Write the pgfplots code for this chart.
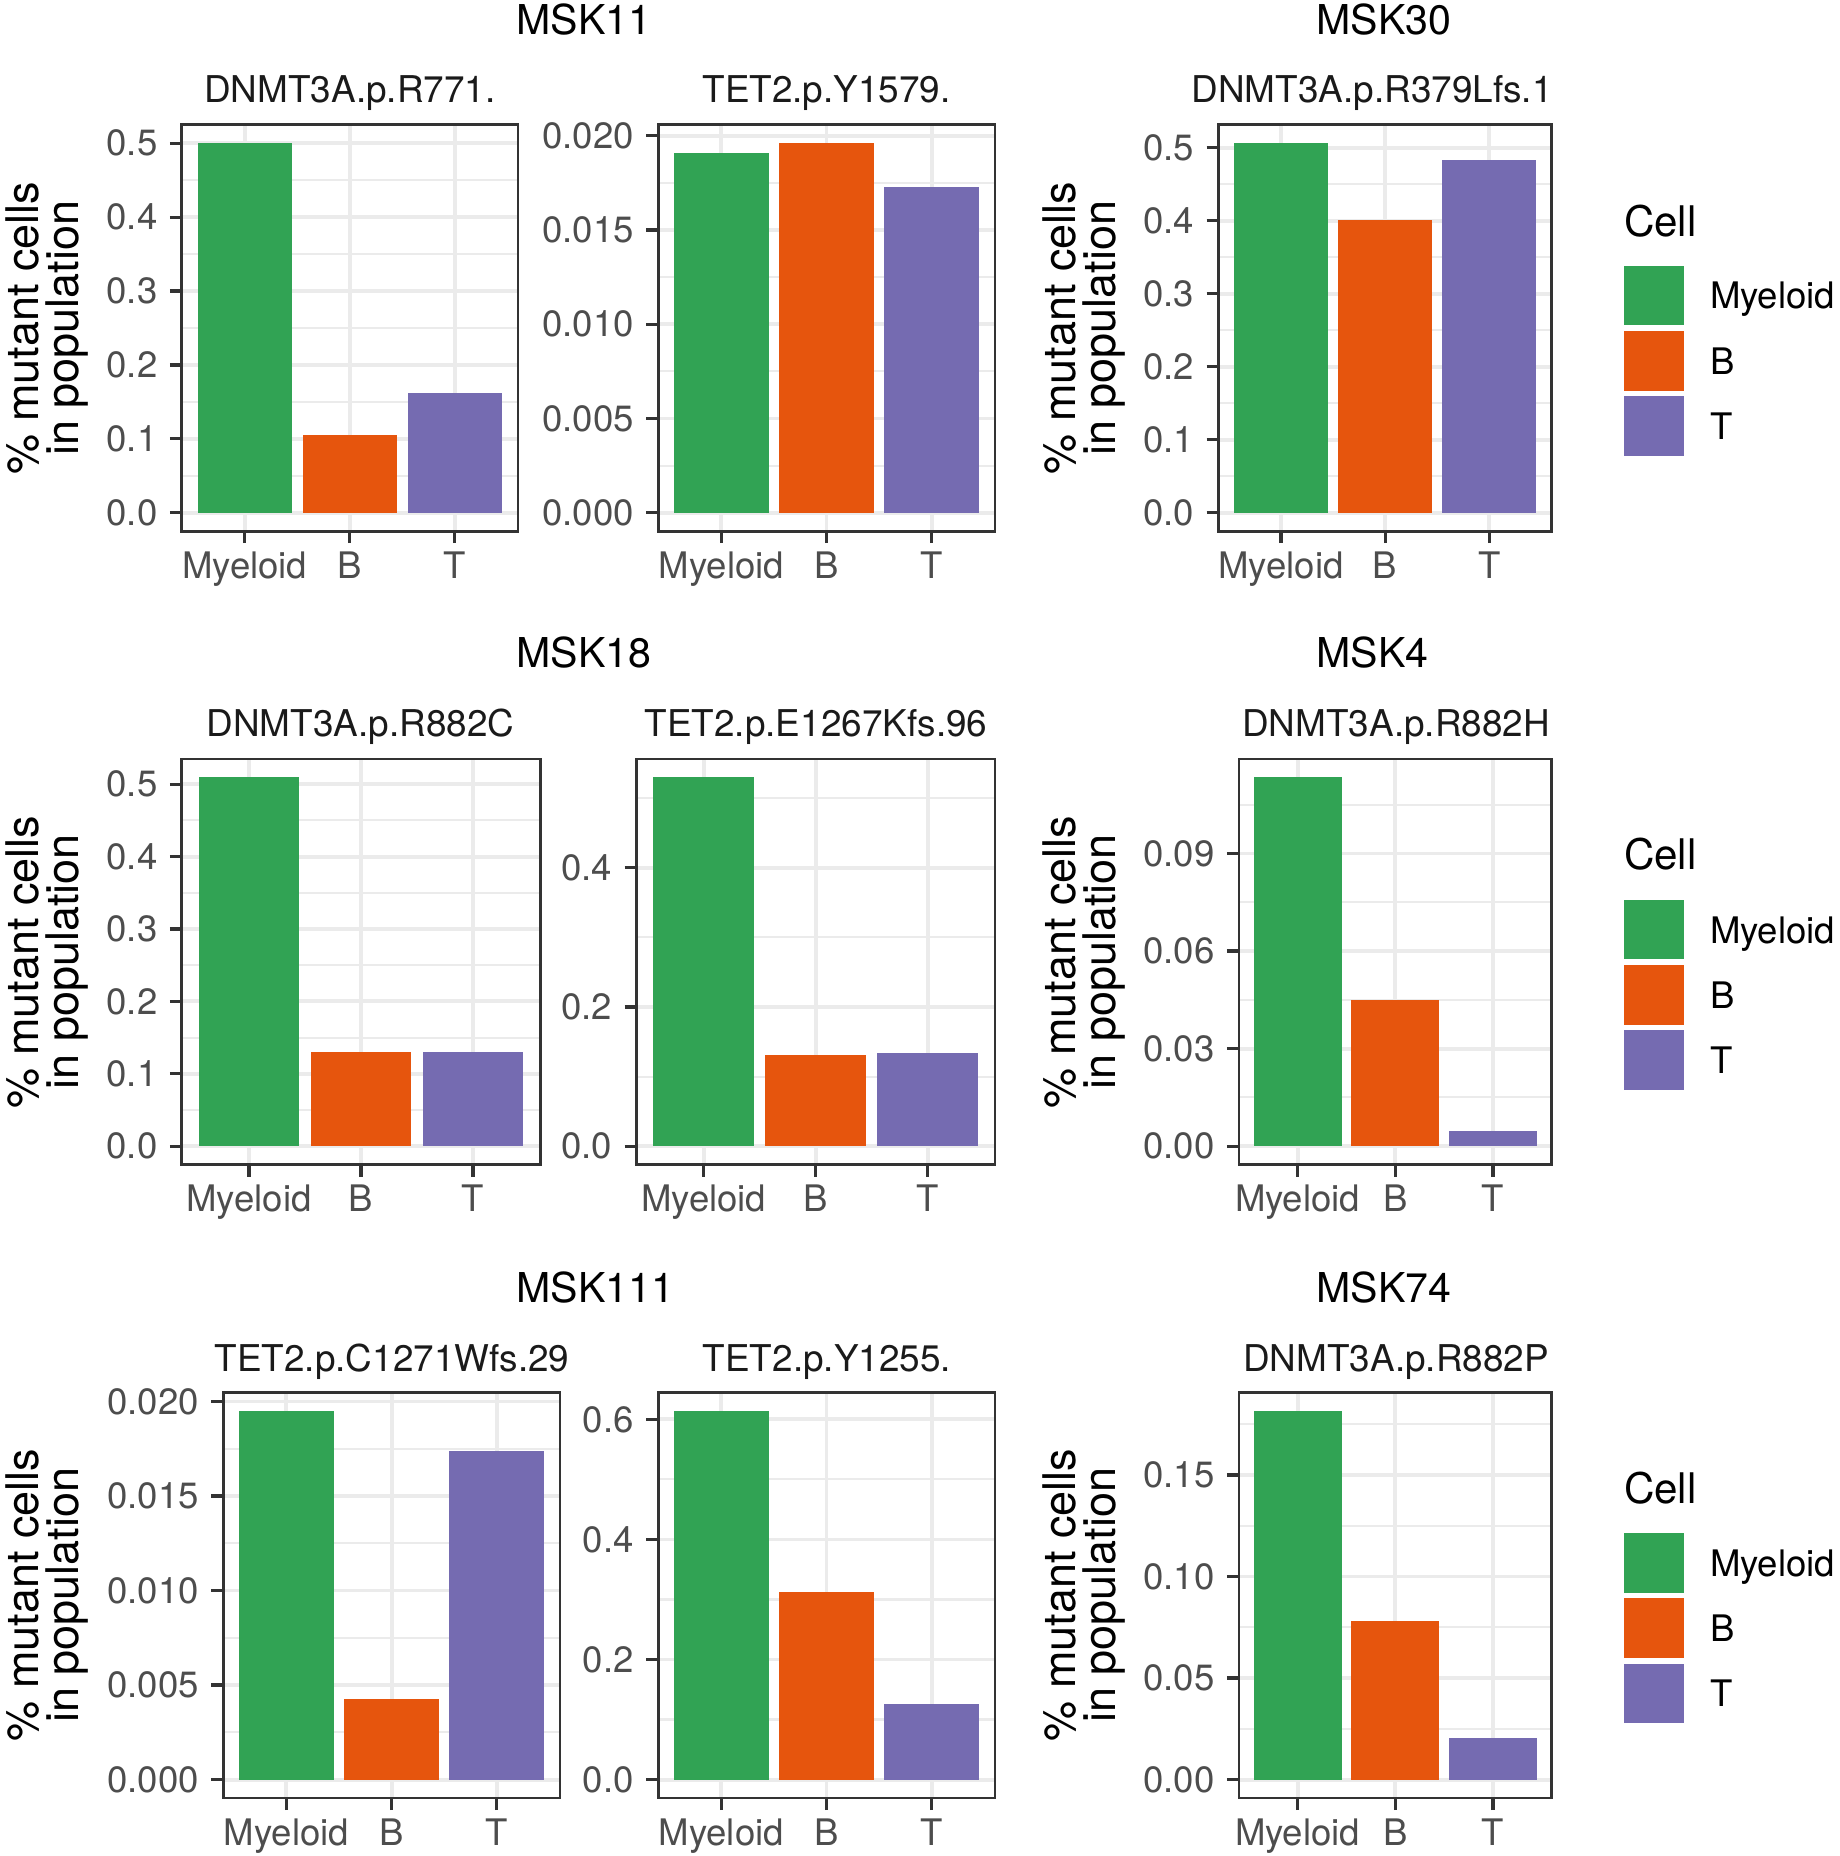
\documentclass[border=0pt]{standalone}
\usepackage{pgfplots}
\pgfplotsset{compat=1.18}
\usepackage{fontspec}
\setmainfont{TeX Gyre Heros}

\definecolor{cMy}{HTML}{31A354}
\definecolor{cB}{HTML}{E6550D}
\definecolor{cT}{HTML}{756BB1}
\definecolor{gg10}{HTML}{1A1A1A}
\definecolor{gg20}{HTML}{333333}
\definecolor{gg30}{HTML}{4D4D4D}
\definecolor{gg92}{HTML}{EBEBEB}

\pgfplotsset{
  panel/.style={
    scale only axis, anchor=north west,
    xmin=0.4, xmax=3.6,
    xtick={1,2,3}, xticklabels={Myeloid,B,T},
    scaled y ticks=false,
    tick align=outside, tick pos=left,
    major tick length=0.12cm, minor tick length=0pt,
    major tick style={color=gg20, line width=0.9pt},
    axis line style={color=gg20, line width=0.75pt},
    xmajorgrids, ymajorgrids, yminorgrids,
    major grid style={color=gg92, line width=1.1pt},
    minor grid style={color=gg92, line width=0.6pt},
    tick label style={font=\fontsize{10.4}{12}\selectfont, color=gg30},
    xticklabel style={yshift=0.04cm},
  },
  barMy/.style={ybar, bar shift=0pt, bar width=0.9, fill=cMy, draw=none,
    legend image code/.code={\fill[cMy] (0cm,-0.298cm) rectangle (0.6cm,0.298cm);}},
  barB/.style={ybar, bar shift=0pt, bar width=0.9, fill=cB, draw=none,
    legend image code/.code={\fill[cB] (0cm,-0.298cm) rectangle (0.6cm,0.298cm);}},
  barT/.style={ybar, bar shift=0pt, bar width=0.9, fill=cT, draw=none,
    legend image code/.code={\fill[cT] (0cm,-0.298cm) rectangle (0.6cm,0.298cm);}},
  cellleg/.style={
    legend cell align=left,
    legend style={at={#1}, anchor=north west, draw=none, fill=none,
      inner sep=0pt, outer sep=0pt, row sep=0.057cm, column sep=0.26cm,
      font=\fontsize{10.4}{12}\selectfont, nodes={inner sep=0pt, text depth=0pt}},
  },
}

\tikzset{
  ptitle/.style={anchor=base west, inner sep=0pt, font=\fontsize{11.7}{14}\selectfont},
  stitle/.style={anchor=base, inner sep=0pt, font=\fontsize{10.5}{12}\selectfont, color=gg10},
  ylab/.style={rotate=90, align=center, font=\fontsize{12.8}{11.4}\selectfont},
  legtitle/.style={anchor=base west, inner sep=0pt, font=\fontsize{12}{14}\selectfont},
}

\begin{document}
\begin{tikzpicture}
\useasboundingbox (0,0) rectangle (18.40,-18.56);

% ---------------- row 1 ----------------
\node[ptitle] at (5.16,-0.34) {MSK11};
\node[ptitle] at (13.16,-0.34) {MSK30};
\node[stitle] at (3.499,-1.026) {DNMT3A.p.R771.};
\node[stitle] at (8.266,-1.026) {TET2.p.Y1579.};
\node[stitle] at (13.72,-1.026) {DNMT3A.p.R379Lfs.1};
\node[ylab] at (0.47,-3.28) {\% mutant cells\\in population};
\node[ylab] at (10.84,-3.28) {\% mutant cells\\in population};

\begin{axis}[panel, at={(1.818cm,-1.248cm)}, width=3.361cm, height=4.064cm,
  ymin=-0.025, ymax=0.525,
  ytick={0,0.1,0.2,0.3,0.4,0.5}, yticklabels={0.0,0.1,0.2,0.3,0.4,0.5},
  minor ytick={0.05,0.15,0.25,0.35,0.45}]
\addplot[barMy] coordinates {(1,0.500)};
\addplot[barB] coordinates {(2,0.105)};
\addplot[barT] coordinates {(3,0.162)};
\end{axis}

\begin{axis}[panel, at={(6.582cm,-1.248cm)}, width=3.367cm, height=4.064cm,
  ymin=-0.00098, ymax=0.02058,
  ytick={0,0.005,0.01,0.015,0.02}, yticklabels={0.000,0.005,0.010,0.015,0.020},
  minor ytick={0.0025,0.0075,0.0125,0.0175}]
\addplot[barMy] coordinates {(1,0.0191)};
\addplot[barB] coordinates {(2,0.0196)};
\addplot[barT] coordinates {(3,0.0173)};
\end{axis}

\begin{axis}[panel, at={(12.185cm,-1.248cm)}, width=3.332cm, height=4.064cm,
  ymin=-0.0253, ymax=0.5313,
  ytick={0,0.1,0.2,0.3,0.4,0.5}, yticklabels={0.0,0.1,0.2,0.3,0.4,0.5},
  minor ytick={0.05,0.15,0.25,0.35,0.45},
  cellleg={(1.2170,0.6533)}]
\addplot[barMy] coordinates {(1,0.506)};
\addlegendentry{Myeloid}
\addplot[barB] coordinates {(2,0.401)};
\addlegendentry{B}
\addplot[barT] coordinates {(3,0.483)};
\addlegendentry{T}
\end{axis}
\node[legtitle] at (16.233,-2.36) {Cell};

% ---------------- row 2 ----------------
\node[ptitle] at (5.16,-6.67) {MSK18};
\node[ptitle] at (13.16,-6.67) {MSK4};
\node[stitle] at (3.604,-7.367) {DNMT3A.p.R882C};
\node[stitle] at (8.16,-7.367) {TET2.p.E1267Kfs.96};
\node[stitle] at (13.96,-7.367) {DNMT3A.p.R882H};
\node[ylab] at (0.47,-9.618) {\% mutant cells\\in population};
\node[ylab] at (10.84,-9.618) {\% mutant cells\\in population};

\begin{axis}[panel, at={(1.818cm,-7.589cm)}, width=3.584cm, height=4.057cm,
  ymin=-0.02548, ymax=0.535,
  ytick={0,0.1,0.2,0.3,0.4,0.5}, yticklabels={0.0,0.1,0.2,0.3,0.4,0.5},
  minor ytick={0.05,0.15,0.25,0.35,0.45}]
\addplot[barMy] coordinates {(1,0.5095)};
\addplot[barB] coordinates {(2,0.130)};
\addplot[barT] coordinates {(3,0.1296)};
\end{axis}

\begin{axis}[panel, at={(6.365cm,-7.589cm)}, width=3.584cm, height=4.057cm,
  ymin=-0.0265, ymax=0.5565,
  ytick={0,0.2,0.4}, yticklabels={0.0,0.2,0.4},
  minor ytick={0.1,0.3,0.5}]
\addplot[barMy] coordinates {(1,0.530)};
\addplot[barB] coordinates {(2,0.1304)};
\addplot[barT] coordinates {(3,0.1332)};
\end{axis}

\begin{axis}[panel, at={(12.389cm,-7.589cm)}, width=3.128cm, height=4.057cm,
  ymin=-0.00567, ymax=0.11907,
  ytick={0,0.03,0.06,0.09}, yticklabels={0.00,0.03,0.06,0.09},
  minor ytick={0.015,0.045,0.075,0.105},
  cellleg={(1.2311,0.6525)}]
\addplot[barMy] coordinates {(1,0.1134)};
\addlegendentry{Myeloid}
\addplot[barB] coordinates {(2,0.0448)};
\addlegendentry{B}
\addplot[barT] coordinates {(3,0.0047)};
\addlegendentry{T}
\end{axis}
\node[legtitle] at (16.233,-8.695) {Cell};

% ---------------- row 3 ----------------
\node[ptitle] at (5.16,-13.02) {MSK111};
\node[ptitle] at (13.16,-13.02) {MSK74};
\node[stitle] at (3.92,-13.71) {TET2.p.C1271Wfs.29};
\node[stitle] at (8.269,-13.71) {TET2.p.Y1255.};
\node[stitle] at (13.96,-13.71) {DNMT3A.p.R882P};
\node[ylab] at (0.47,-15.95) {\% mutant cells\\in population};
\node[ylab] at (10.84,-15.95) {\% mutant cells\\in population};

\begin{axis}[panel, at={(2.232cm,-13.925cm)}, width=3.368cm, height=4.055cm,
  ymin=-0.000975, ymax=0.020475,
  ytick={0,0.005,0.01,0.015,0.02}, yticklabels={0.000,0.005,0.010,0.015,0.020},
  minor ytick={0.0025,0.0075,0.0125,0.0175}]
\addplot[barMy] coordinates {(1,0.0195)};
\addplot[barB] coordinates {(2,0.00426)};
\addplot[barT] coordinates {(3,0.01737)};
\end{axis}

\begin{axis}[panel, at={(6.582cm,-13.925cm)}, width=3.367cm, height=4.055cm,
  ymin=-0.0307, ymax=0.6447,
  ytick={0,0.2,0.4,0.6}, yticklabels={0.0,0.2,0.4,0.6},
  minor ytick={0.1,0.3,0.5}]
\addplot[barMy] coordinates {(1,0.614)};
\addplot[barB] coordinates {(2,0.3126)};
\addplot[barT] coordinates {(3,0.1263)};
\end{axis}

\begin{axis}[panel, at={(12.389cm,-13.925cm)}, width=3.128cm, height=4.055cm,
  ymin=-0.009075, ymax=0.190575,
  ytick={0,0.05,0.1,0.15}, yticklabels={0.00,0.05,0.10,0.15},
  minor ytick={0.025,0.075,0.125,0.175},
  cellleg={(1.2311,0.6536)}]
\addplot[barMy] coordinates {(1,0.1815)};
\addlegendentry{Myeloid}
\addplot[barB] coordinates {(2,0.0779)};
\addlegendentry{B}
\addplot[barT] coordinates {(3,0.0204)};
\addlegendentry{T}
\end{axis}
\node[legtitle] at (16.233,-15.038) {Cell};

\end{tikzpicture}
\end{document}
